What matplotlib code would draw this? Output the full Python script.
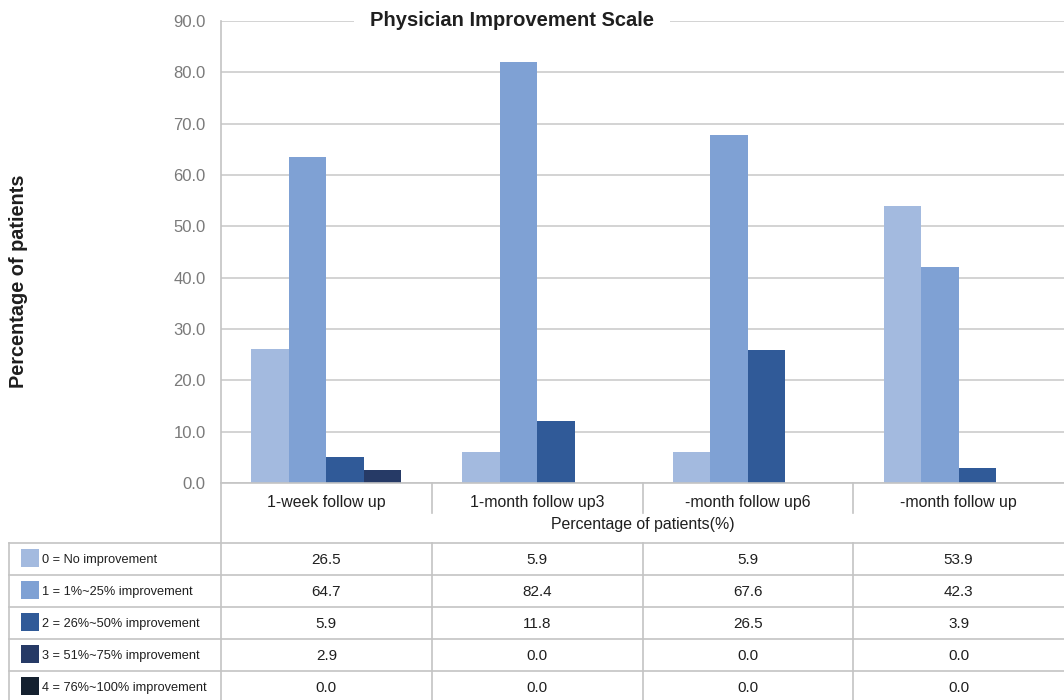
import matplotlib
matplotlib.use("Agg")
import matplotlib.pyplot as plt
from matplotlib.patches import Rectangle
from matplotlib.lines import Line2D

categories = ["1-week follow up", "1-month follow up3", "-month follow up6", "-month follow up"]
series_labels = ["0 = No improvement", "1 = 1%~25% improvement", "2 = 26%~50% improvement",
                 "3 = 51%~75% improvement", "4 = 76%~100% improvement"]
# bar heights as drawn
bar_s0 = [26.1, 6.0, 6.0, 53.9]
bar_s1 = [63.5, 82.1, 67.7, 42.0]
bar_s2 = [5.1, 12.0, 26.0, 3.0]
bar_s3 = [2.6, 0.0, 0.0, 0.0]
# values shown in data table
table_s0 = ["26.5", "5.9", "5.9", "53.9"]
table_s1 = ["64.7", "82.4", "67.6", "42.3"]
table_s2 = ["5.9", "11.8", "26.5", "3.9"]
table_s3 = ["2.9", "0.0", "0.0", "0.0"]
table_s4 = ["0.0", "0.0", "0.0", "0.0"]
yticks = [0, 10, 20, 30, 40, 50, 60, 70, 80, 90]

colors = ["#A3BADF", "#7FA1D4", "#305A98", "#263A66", "#14202F"]
grid_c = "#CCCCCC"
line_c = "#C4C4C4"
text_c = "#1F1F1F"
tick_c = "#7A7A7A"

W, H = 1064, 700
fig = plt.figure(figsize=(W / 100, H / 100), dpi=100)
plt.rcParams['font.family'] = ['Liberation Sans', 'DejaVu Sans']

ax_l, ax_r, ax_t, ax_b = 221, 1064, 21, 483
ax = fig.add_axes([ax_l / W, 1 - ax_b / H, (ax_r - ax_l) / W, (ax_b - ax_t) / H])
ax.set_ylim(0, 90)
ax.set_xlim(-0.5, len(categories) - 0.5)
for s in ax.spines.values():
    s.set_visible(False)
ax.set_yticks(yticks)
ax.set_yticklabels([f"{v:.1f}" for v in yticks], color=tick_c, fontsize=12)
ax.tick_params(axis='y', length=0, pad=11)
ax.set_xticks([])
ax.yaxis.grid(True, color=grid_c, linewidth=1.2)
ax.set_axisbelow(True)

bw = 37.5 / 211
bars = [bar_s0, bar_s1, bar_s2, bar_s3]
n = len(bars)
for i, vals in enumerate(bars):
    xs = [k + (i - (n - 1) / 2) * bw for k in range(len(categories))]
    ax.bar(xs, vals, width=bw, color=colors[i], linewidth=0, zorder=3)

# overlay in pixel coordinates
ov = fig.add_axes([0, 0, 1, 1], facecolor="none")
ov.set_xlim(0, W)
ov.set_ylim(H, 0)
ov.axis("off")

def hline(y, x0, x1):
    ov.add_line(Line2D([x0, x1], [y, y], color=line_c, lw=1.2))

def vline(x, y0, y1):
    ov.add_line(Line2D([x, x], [y0, y1], color=line_c, lw=1.2))

# axis line and left border
vline(ax_l, ax_t, H)
hline(ax_b, ax_l, W)
col_x = [ax_l + (ax_r - ax_l) * k / 4 for k in range(5)]
for x in col_x[1:4]:
    vline(x, ax_b, 513)
    vline(x, 543, H)
for k, c in enumerate(categories):
    ov.text((col_x[k] + col_x[k + 1]) / 2, 502, c, ha="center", va="center",
            fontsize=11.4, color=text_c)
ov.text((ax_l + ax_r) / 2, 524, "Percentage of patients(%)", ha="center", va="center",
        fontsize=11.4, color=text_c)

# data table
row_y = [543, 575, 607, 639, 671, 703]
for y in row_y[:5]:
    hline(y, 9, W)
vline(9, 543, H)
tables = [table_s0, table_s1, table_s2, table_s3, table_s4]
for r in range(5):
    yc = (row_y[r] + row_y[r + 1]) / 2
    ov.add_patch(Rectangle((21, yc - 10), 18, 18, facecolor=colors[r], edgecolor="none"))
    ov.text(42, yc + 1, series_labels[r], ha="left", va="center", fontsize=9.2,
            color=text_c)
    for k in range(4):
        ov.text((col_x[k] + col_x[k + 1]) / 2, yc + 1.5, tables[r][k], ha="center", va="center",
                fontsize=11, color=text_c)

# title
ov.text(512, 20, "Physician Improvement Scale", ha="center", va="center", fontsize=14.5,
        fontweight="bold", color=text_c,
        bbox=dict(facecolor="white", edgecolor="none", boxstyle="square,pad=0.8"))
# y label
ov.text(19, 281, "Percentage of patients", ha="center", va="center", rotation=90,
        fontsize=14.3, fontweight="bold", color=text_c)

fig.savefig("out.png", dpi=100)
